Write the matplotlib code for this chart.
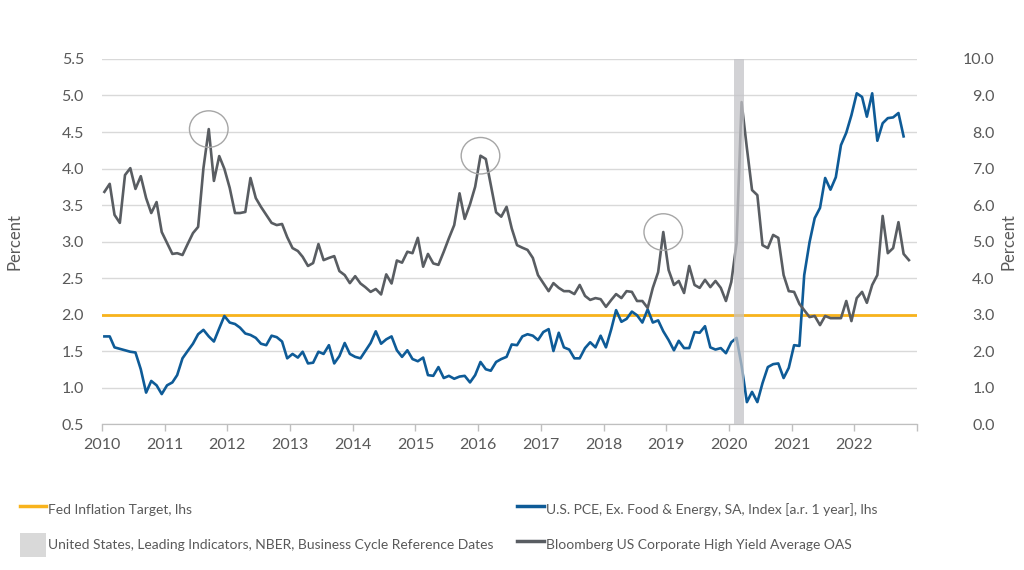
#!/usr/bin/env python3
"""
Core PCE inflation vs. high yield spreads, 2010-2022, with the Fed target
and the 2020 NBER recession shaded. Saves out.png.
"""

import matplotlib

matplotlib.use("Agg")
import matplotlib.dates as mdates
import matplotlib.pyplot as plt
import pandas as pd
from matplotlib.lines import Line2D
from matplotlib.patches import Ellipse, Patch

# monthly series, first value is Jan 2010
START = "2010-01-01"

# U.S. PCE ex food & energy, y/y %, lhs
pce_core = [
    1.70, 1.70, 1.55, 1.53, 1.51, 1.49, 1.48, 1.25, 0.93, 1.09, 1.03, 0.91,
    1.03, 1.07, 1.17, 1.40, 1.50, 1.60, 1.73, 1.79, 1.70, 1.63, 1.81, 1.98,
    1.89, 1.87, 1.82, 1.74, 1.72, 1.68, 1.60, 1.58, 1.71, 1.69, 1.63, 1.40,
    1.46, 1.41, 1.49, 1.33, 1.34, 1.49, 1.46, 1.58, 1.33, 1.43, 1.61, 1.46,
    1.42, 1.40, 1.50, 1.61, 1.77, 1.60, 1.66, 1.70, 1.51, 1.42, 1.51, 1.39,
    1.36, 1.41, 1.17, 1.16, 1.28, 1.13, 1.16, 1.12, 1.15, 1.16, 1.07, 1.17,
    1.35, 1.25, 1.23, 1.35, 1.39, 1.42, 1.59, 1.58, 1.70, 1.73, 1.71, 1.65,
    1.76, 1.80, 1.50, 1.75, 1.55, 1.52, 1.40, 1.40, 1.54, 1.62, 1.55, 1.71,
    1.55, 1.80, 2.06, 1.90, 1.94, 2.04, 1.99, 1.89, 2.07, 1.89, 1.92, 1.77,
    1.65, 1.51, 1.64, 1.54, 1.54, 1.76, 1.75, 1.84, 1.55, 1.52, 1.54, 1.47,
    1.62, 1.68, 1.30, 0.80, 0.94, 0.80, 1.06, 1.28, 1.32, 1.33, 1.13, 1.27,
    1.58, 1.57, 2.54, 2.99, 3.32, 3.46, 3.87, 3.71, 3.88, 4.32, 4.49, 4.73,
    5.03, 4.98, 4.71, 5.03, 4.38, 4.62, 4.69, 4.70, 4.76, 4.44,
]

# Bloomberg US Corporate High Yield average OAS, %, rhs
hy_oas = [
    6.36, 6.58, 5.73, 5.51, 6.82, 7.01, 6.44, 6.79, 6.19, 5.78, 6.08, 5.26,
    4.96, 4.66, 4.68, 4.63, 4.93, 5.23, 5.40, 7.01, 8.08, 6.66, 7.34, 6.99,
    6.47, 5.78, 5.78, 5.81, 6.74, 6.19, 5.95, 5.73, 5.51, 5.45, 5.48, 5.12,
    4.82, 4.74, 4.58, 4.33, 4.41, 4.93, 4.49, 4.55, 4.60, 4.19, 4.08, 3.86,
    4.05, 3.85, 3.75, 3.62, 3.70, 3.55, 4.10, 3.85, 4.48, 4.42, 4.72, 4.68,
    5.10, 4.31, 4.66, 4.40, 4.36, 4.72, 5.09, 5.45, 6.32, 5.62, 6.02, 6.50,
    7.35, 7.26, 6.55, 5.80, 5.68, 5.95, 5.36, 4.90, 4.83, 4.77, 4.55, 4.08,
    3.86, 3.64, 3.86, 3.73, 3.64, 3.64, 3.56, 3.81, 3.51, 3.40, 3.45, 3.42,
    3.21, 3.40, 3.56, 3.45, 3.64, 3.62, 3.37, 3.37, 3.18, 3.73, 4.16, 5.26,
    4.22, 3.81, 3.92, 3.59, 4.33, 3.81, 3.73, 3.95, 3.75, 3.92, 3.73, 3.37,
    3.89, 4.96, 8.82, 7.56, 6.41, 6.27, 4.90, 4.82, 5.18, 5.10, 4.08, 3.64,
    3.62, 3.29, 3.12, 2.93, 2.96, 2.71, 2.96, 2.90, 2.90, 2.90, 3.37, 2.82,
    3.45, 3.62, 3.32, 3.81, 4.08, 5.70, 4.68, 4.82, 5.53, 4.66, 4.49,
]

fed_target = 2.0
recession = ("2020-02-01", "2020-04-01")
circled_peaks = ["2011-09-01", "2016-01-01", "2018-12-01"]

year_ticks = list(range(2010, 2024))
left_ticks = [0.5, 1.0, 1.5, 2.0, 2.5, 3.0, 3.5, 4.0, 4.5, 5.0, 5.5]
right_ticks = [0, 1, 2, 3, 4, 5, 6, 7, 8, 9, 10]

labels = {
    "fed": "Fed Inflation Target, lhs",
    "pce": "U.S. PCE, Ex. Food & Energy, SA, Index [a.r. 1 year], lhs",
    "nber": "United States, Leading Indicators, NBER, Business Cycle Reference Dates",
    "hy": "Bloomberg US Corporate High Yield Average OAS",
}

BLUE = "#0e5b97"
GREY_LINE = "#595d62"
ORANGE = "#f8b31c"
SHADE = "#c4c4c8"
GRID = "#d9d9d9"
TEXT = "#595959"


def _monthly(values) -> pd.Series:
    idx = pd.date_range(START, periods=len(values), freq="MS")
    return pd.Series(values, index=idx)


def _legend(fig, handles, names, x):
    leg = fig.legend(
        handles,
        names,
        loc="upper left",
        bbox_to_anchor=(x, 0.126),
        frameon=False,
        fontsize=10,
        handlelength=1.9,
        handleheight=2.2,
        handletextpad=0.15,
        labelspacing=0.85,
        borderpad=0,
        borderaxespad=0,
    )
    for t in leg.get_texts():
        t.set_color(TEXT)
    return leg


def main():
    plt.rcParams["font.family"] = ["Lato", "DejaVu Sans"]

    pce = _monthly(pce_core)
    hy = _monthly(hy_oas)
    # plot monthly points mid-month
    shift = pd.Timedelta(days=14)

    fig = plt.figure(figsize=(10.24, 5.70), dpi=100)
    ax = fig.add_axes([0.0996, 0.2561, 0.7959, 0.6404])
    ax2 = ax.twinx()

    ax.yaxis.grid(True, color=GRID, lw=1.0, zorder=0)
    ax.set_axisbelow(True)
    ax.axhline(fed_target, color=ORANGE, lw=2.0, zorder=2)
    ax.plot(pce.index + shift, pce.values, color=BLUE, lw=1.9, zorder=3)

    ax2.plot(hy.index + shift, hy.values, color=GREY_LINE, lw=1.9, zorder=3)
    ax2.axvspan(
        pd.Timestamp(recession[0]), pd.Timestamp(recession[1]),
        color=SHADE, alpha=0.75, lw=0, zorder=5,
    )

    for d in circled_peaks:
        ts = pd.Timestamp(d)
        ax2.add_patch(
            Ellipse(
                (mdates.date2num(ts + shift), hy[ts]),
                width=225, height=1.0,
                fill=False, edgecolor="#a6a6a6", lw=1.0, zorder=4,
            )
        )

    ax.set_xlim(pd.Timestamp("2010-01-01"), pd.Timestamp("2023-01-01"))
    ax.set_ylim(left_ticks[0], left_ticks[-1])
    ax2.set_ylim(right_ticks[0], right_ticks[-1])

    xt = [pd.Timestamp(f"{y}-01-01") for y in year_ticks]
    ax.set_xticks(xt)
    ax.set_xticklabels([str(y) if y < 2023 else "" for y in year_ticks])
    ax.set_yticks(left_ticks)
    ax.set_yticklabels([f"{v:.1f}" for v in left_ticks])
    ax2.set_yticks(right_ticks)
    ax2.set_yticklabels([f"{v:.1f}" for v in right_ticks])
    for lab in ax2.get_yticklabels():
        lab.set_horizontalalignment("right")

    ax.tick_params(axis="x", direction="out", length=5, width=1,
                   color="#bfbfbf", labelcolor=TEXT, labelsize=11.5, pad=5)
    ax.tick_params(axis="y", length=0, labelcolor=TEXT, labelsize=11.5, pad=13)
    ax2.tick_params(axis="y", length=0, labelcolor=TEXT, labelsize=11.5, pad=56)

    for a in (ax, ax2):
        for side in ("top", "left", "right"):
            a.spines[side].set_visible(False)
        a.spines["bottom"].set_color("#bfbfbf")

    ax.set_ylabel("Percent", color=TEXT, fontsize=12)
    ax.yaxis.set_label_coords(-0.098, 0.5)
    ax2.set_ylabel("Percent", color=TEXT, fontsize=12)
    ax2.yaxis.set_label_coords(1.103, 0.5)

    fed_h = Line2D([], [], color=ORANGE, lw=2.5)
    pce_h = Line2D([], [], color=BLUE, lw=2.5)
    nber_h = Patch(facecolor="#d9d9d9", edgecolor="none")
    hy_h = Line2D([], [], color=GREY_LINE, lw=2.5)
    _legend(fig, [fed_h, nber_h], [labels["fed"], labels["nber"]], 0.0195)
    _legend(fig, [pce_h, hy_h], [labels["pce"], labels["hy"]], 0.505)

    fig.savefig("out.png", dpi=100)
    plt.close(fig)


if __name__ == "__main__":
    main()
